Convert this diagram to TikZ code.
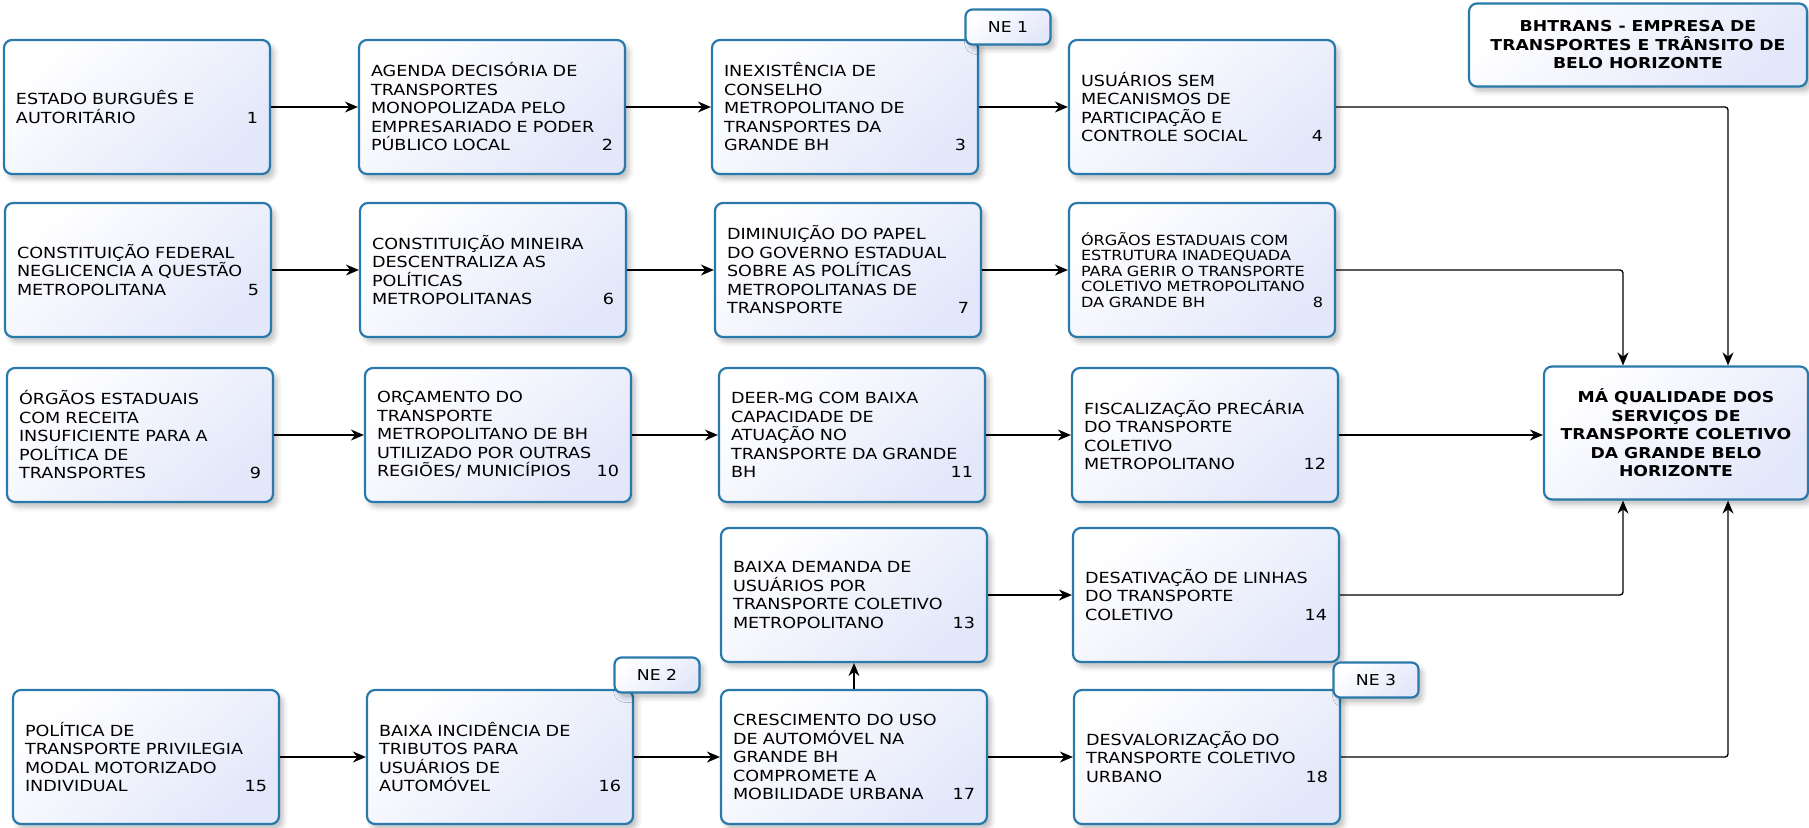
\documentclass[tikz,border=0pt]{standalone}
\usepackage{fontspec}
\setmainfont{DejaVu Sans}[FakeStretch=1.15]
\usetikzlibrary{arrows.meta,shadows.blur}
\definecolor{boxline}{RGB}{41,121,170}
\definecolor{boxlow}{RGB}{226,231,250}
\newcommand{\nr}[1]{\hskip 0pt plus 1fill #1\hspace*{22pt}}

\begin{document}
\begin{tikzpicture}[x=1pt,y=-1pt,
  card/.style={draw=boxline,line width=2.2pt,rounded corners=8pt,top color=white,bottom color=boxlow,shading angle=40,
    blur shadow={shadow xshift=4pt,shadow yshift=-5pt,shadow blur radius=5pt,shadow opacity=25},inner sep=0pt},
  box/.style={card,minimum width=266pt,minimum height=134pt,text width=242pt,align=left,font=\fontsize{15.3}{18.5}\selectfont},
  tag/.style={card,rounded corners=7pt,minimum width=85pt,minimum height=35pt,font=\fontsize{15}{18}\selectfont},
  head/.style={card,align=center,font=\bfseries\fontsize{15}{18.5}\selectfont},
  arr/.style={-{Stealth[length=13pt,width=11pt]},line width=1.3pt,rounded corners=3pt}]
\useasboundingbox (0,0) rectangle (1809,827);

\node[box] (b1) at (137,107) {ESTADO BURGUÊS E\\AUTORITÁRIO\nr{1}};
\node[box] (b2) at (492,107) {AGENDA DECISÓRIA DE\\TRANSPORTES\\MONOPOLIZADA PELO\\EMPRESARIADO E PODER\\PÚBLICO LOCAL\nr{2}};
\node[box] (b3) at (845,107) {INEXISTÊNCIA DE\\CONSELHO\\METROPOLITANO DE\\TRANSPORTES DA\\GRANDE BH\nr{3}};
\node[box] (b4) at (1202,107) {USUÁRIOS SEM\\MECANISMOS DE\\PARTICIPAÇÃO E\\CONTROLE SOCIAL\nr{4}};

\node[box] (b5) at (138,270) {CONSTITUIÇÃO FEDERAL\\NEGLICENCIA A QUESTÃO\\METROPOLITANA\nr{5}};
\node[box] (b6) at (493,270) {CONSTITUIÇÃO MINEIRA\\DESCENTRALIZA AS\\POLÍTICAS\\METROPOLITANAS\nr{6}};
\node[box] (b7) at (848,270) {DIMINUIÇÃO DO PAPEL\\DO GOVERNO ESTADUAL\\SOBRE AS POLÍTICAS\\METROPOLITANAS DE\\TRANSPORTE\nr{7}};
\node[box,font=\fontsize{14}{15.5}\selectfont] (b8) at (1202,270) {ÓRGÃOS ESTADUAIS COM\\ESTRUTURA INADEQUADA\\PARA GERIR O TRANSPORTE\\COLETIVO METROPOLITANO\\DA GRANDE BH\nr{8}};

\node[box] (b9) at (140,435) {ÓRGÃOS ESTADUAIS\\COM RECEITA\\INSUFICIENTE PARA A\\POLÍTICA DE\\TRANSPORTES\nr{9}};
\node[box] (b10) at (498,435) {ORÇAMENTO DO\\TRANSPORTE\\METROPOLITANO DE BH\\UTILIZADO POR OUTRAS\\REGIÕES/ MUNICÍPIOS\nr{10}};
\node[box] (b11) at (852,435) {DEER-MG COM BAIXA\\CAPACIDADE DE\\ATUAÇÃO NO\\TRANSPORTE DA GRANDE\\BH\nr{11}};
\node[box] (b12) at (1205,435) {FISCALIZAÇÃO PRECÁRIA\\DO TRANSPORTE\\COLETIVO\\METROPOLITANO\nr{12}};

\node[box] (b13) at (854,595) {BAIXA DEMANDA DE\\USUÁRIOS POR\\TRANSPORTE COLETIVO\\METROPOLITANO\nr{13}};
\node[box] (b14) at (1206,595) {DESATIVAÇÃO DE LINHAS\\DO TRANSPORTE\\COLETIVO\nr{14}};

\node[box] (b15) at (146,757) {POLÍTICA DE\\TRANSPORTE PRIVILEGIA\\MODAL MOTORIZADO\\INDIVIDUAL\nr{15}};
\node[box] (b16) at (500,757) {BAIXA INCIDÊNCIA DE\\TRIBUTOS PARA\\USUÁRIOS DE\\AUTOMÓVEL\nr{16}};
\node[box] (b17) at (854,757) {CRESCIMENTO DO USO\\DE AUTOMÓVEL NA\\GRANDE BH\\COMPROMETE A\\MOBILIDADE URBANA\nr{17}};
\node[box] (b18) at (1207,757) {DESVALORIZAÇÃO DO\\TRANSPORTE COLETIVO\\URBANO\nr{18}};

\node[head,minimum width=264pt,minimum height=133pt] (main) at (1676,433) {MÁ QUALIDADE DOS\\SERVIÇOS DE\\TRANSPORTE COLETIVO\\DA GRANDE BELO\\HORIZONTE};
\node[head,minimum width=338pt,minimum height=83pt] (bhtrans) at (1638,45) {BHTRANS - EMPRESA DE\\TRANSPORTES E TRÂNSITO DE\\BELO HORIZONTE};

\node[tag] (ne1) at (1008,27) {NE 1};
\node[tag] (ne2) at (657,675) {NE 2};
\node[tag] (ne3) at (1376,680) {NE 3};

\draw[arr] (b1) -- (b2);
\draw[arr] (b2) -- (b3);
\draw[arr] (b3) -- (b4);
\draw[arr] (b5) -- (b6);
\draw[arr] (b6) -- (b7);
\draw[arr] (b7) -- (b8);
\draw[arr] (b9) -- (b10);
\draw[arr] (b10) -- (b11);
\draw[arr] (b11) -- (b12);
\draw[arr] (b13) -- (b14);
\draw[arr] (b15) -- (b16);
\draw[arr] (b16) -- (b17);
\draw[arr] (b17) -- (b18);
\draw[arr] (b17) -- (b13);
\draw[arr] (b4.east) -| ([xshift=52pt]main.north);
\draw[arr] (b8.east) -| ([xshift=-53pt]main.north);
\draw[arr] (b12.east) -- (b12.east -| main.west);
\draw[arr] (b14.east) -| ([xshift=-53pt]main.south);
\draw[arr] (b18.east) -| ([xshift=52pt]main.south);
\end{tikzpicture}
\end{document}
